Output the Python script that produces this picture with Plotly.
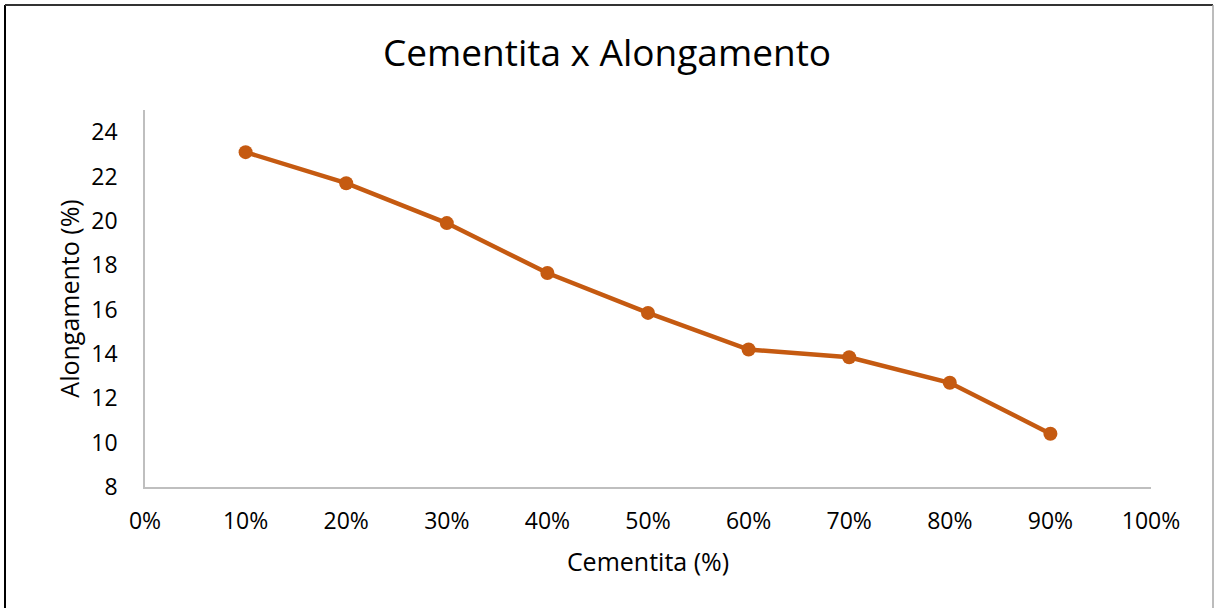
import plotly.graph_objects as go

# Cementite fraction vs. elongation
cementita = [0.10, 0.20, 0.30, 0.40, 0.50, 0.60, 0.70, 0.80, 0.90]
alongamento = [23.1, 21.7, 19.9, 17.65, 15.85, 14.2, 13.85, 12.7, 10.4]

x_ticks = [0.0, 0.1, 0.2, 0.3, 0.4, 0.5, 0.6, 0.7, 0.8, 0.9, 1.0]
y_ticks = [8, 10, 12, 14, 16, 18, 20, 22, 24]

FONT = "Open Sans"
LINE = "#C55A11"
AXIS = "#BFBFBF"

fig = go.Figure()
fig.add_trace(go.Scatter(
    x=cementita, y=alongamento, mode="lines+markers",
    line=dict(color=LINE, width=4.5),
    marker=dict(color=LINE, size=14),
    showlegend=False,
))

W, H = 1214, 608
L, R, T, B = 145, 63, 110, 121
pw, ph = W - L - R, H - T - B

def px(xp):
    return (xp - L) / pw

def py(yp):
    return (H - B - yp) / ph

fig.update_layout(
    width=W, height=H,
    margin=dict(l=L, r=R, t=T, b=B),
    paper_bgcolor="white", plot_bgcolor="white",
    font=dict(family=FONT, color="#000000"),
    title=dict(text="Cementita x Alongamento", x=0.5, xanchor="center",
               y=1 - 53 / H, yanchor="middle",
               font=dict(size=37, family=FONT, color="#000000")),
    xaxis=dict(range=[0, 1], tickvals=x_ticks, tickformat=".0%",
               showgrid=False, zeroline=False, showline=True,
               linecolor=AXIS, linewidth=1.5, ticks="",
               tickfont=dict(size=23), ticklabelstandoff=13,
               title=dict(text="Cementita (%)", font=dict(size=25), standoff=18)),
    yaxis=dict(range=[8, 25], tickvals=y_ticks,
               showgrid=False, zeroline=False, showline=True,
               linecolor=AXIS, linewidth=1.5, ticks="",
               tickfont=dict(size=23), ticklabelstandoff=21,
               title=dict(text="Alongamento (%)", font=dict(size=25), standoff=5)),
)

# Chart-area border
fig.add_shape(type="line", xref="paper", yref="paper",
              x0=px(5), x1=px(5), y0=py(5), y1=py(650),
              line=dict(color="#000000", width=2))
fig.add_shape(type="line", xref="paper", yref="paper",
              x0=px(5), x1=px(1213), y0=py(5), y1=py(5),
              line=dict(color="#333333", width=2))
fig.add_shape(type="line", xref="paper", yref="paper",
              x0=px(1213), x1=px(1213), y0=py(5), y1=py(650),
              line=dict(color="#A6A6A6", width=1.5))

fig.write_html("out.html")
